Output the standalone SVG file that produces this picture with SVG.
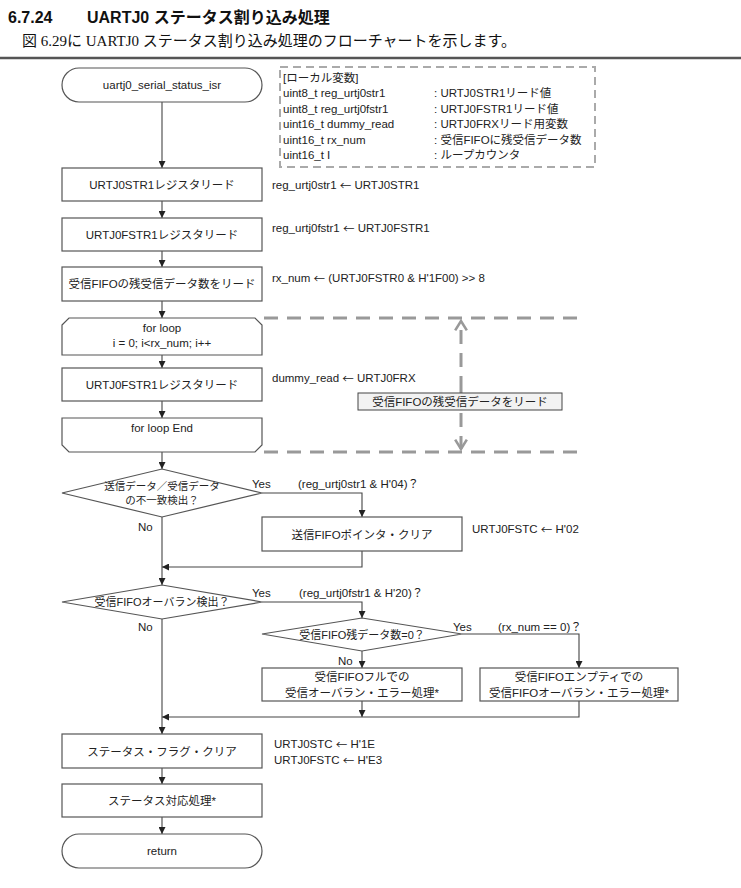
<svg xmlns="http://www.w3.org/2000/svg" width="741" height="888" viewBox="0 0 741 888">
<style>
text{font-family:"Liberation Sans","Noto Sans CJK JP",sans-serif;font-size:11.5px;fill:#222}
.c{text-anchor:middle;dominant-baseline:central}
.l{dominant-baseline:central}
.nt{font-size:11.5px}
.ar{font-family:"Noto Sans CJK JP",sans-serif}
.node{fill:#fff;stroke:#555;stroke-width:1.2}
.ln{fill:none;stroke:#444;stroke-width:1.1}
.dash{fill:none;stroke:#999;stroke-width:3;stroke-dasharray:14 9}
.vdash{fill:none;stroke:#aaa;stroke-width:2;stroke-dasharray:8 5}
</style>
<defs>
<marker id="ah" viewBox="0 0 8 8" refX="8" refY="4" markerWidth="7" markerHeight="7" markerUnits="userSpaceOnUse" orient="auto">
<path d="M0,0 L8,4 L0,8 z" fill="#222"/>
</marker>
<marker id="oh" viewBox="0 0 12 12" refX="10" refY="6" markerWidth="14" markerHeight="14" markerUnits="userSpaceOnUse" orient="auto">
<path d="M2,1 L10,6 L2,11" fill="none" stroke="#999" stroke-width="2.2"/>
</marker>
</defs>
<rect width="741" height="888" fill="#fff"/>
<g id="header">
<text x="8" y="23" style="font-size:16px;font-weight:bold;fill:#111">6.7.24</text>
<text x="87" y="23" style="font-size:16px;font-weight:bold;fill:#111">UARTJ0 ステータス割り込み処理</text>
<text x="22" y="46" style="font-family:'Liberation Serif','Noto Sans CJK JP',serif;font-size:15px;fill:#111">図 6.29に UARTJ0 ステータス割り込み処理のフローチャートを示します。</text>
<line x1="0" y1="58" x2="741" y2="58" stroke="#555" stroke-width="2.5"/>
</g>
<g id="connectors">
<line class="ln" x1="162" y1="102" x2="162" y2="168" marker-end="url(#ah)"/>
<line class="ln" x1="162" y1="201" x2="162" y2="218" marker-end="url(#ah)"/>
<line class="ln" x1="162" y1="251" x2="162" y2="267" marker-end="url(#ah)"/>
<line class="ln" x1="162" y1="301" x2="162" y2="318" marker-end="url(#ah)"/>
<line class="ln" x1="162" y1="355" x2="162" y2="368" marker-end="url(#ah)"/>
<line class="ln" x1="162" y1="401" x2="162" y2="418" marker-end="url(#ah)"/>
<line class="ln" x1="162" y1="452" x2="162" y2="469" marker-end="url(#ah)"/>
<polyline class="ln" points="262,493 362,493 362,517" marker-end="url(#ah)"/>
<polyline class="ln" points="362,551 362,567 162,567" marker-end="url(#ah)"/>
<line class="ln" x1="162" y1="517" x2="162" y2="585" marker-end="url(#ah)"/>
<polyline class="ln" points="262,602 362,602 362,618" marker-end="url(#ah)"/>
<line class="ln" x1="362" y1="651" x2="362" y2="668" marker-end="url(#ah)"/>
<polyline class="ln" points="462,634 579,634 579,668" marker-end="url(#ah)"/>
<line class="ln" x1="362" y1="701" x2="362" y2="717" marker-end="url(#ah)"/>
<polyline class="ln" points="579,701 579,717 162,717" marker-end="url(#ah)"/>
<line class="ln" x1="162" y1="619" x2="162" y2="734" marker-end="url(#ah)"/>
<line class="ln" x1="162" y1="768" x2="162" y2="784" marker-end="url(#ah)"/>
<line class="ln" x1="162" y1="817" x2="162" y2="834" marker-end="url(#ah)"/>
<text x="252" y="484" class="l">Yes</text>
<text x="298" y="484" class="l">(reg_urtj0str1 &amp; H'04)？</text>
<text x="138" y="527" class="l">No</text>
<text x="252" y="593" class="l">Yes</text>
<text x="299" y="593" class="l">(reg_urtj0fstr1 &amp; H'20)？</text>
<text x="138" y="627" class="l">No</text>
<text x="453" y="627" class="l">Yes</text>
<text x="498" y="627" class="l">(rx_num == 0)？</text>
<text x="338" y="661" class="l">No</text>
</g>
<g id="loop-range">
<line class="dash" x1="264" y1="318" x2="578" y2="318"/>
<line class="dash" x1="264" y1="452" x2="578" y2="452"/>
<line class="dash" x1="461" y1="390" x2="461" y2="321" marker-end="url(#oh)"/>
<line class="dash" x1="461" y1="390" x2="461" y2="449" marker-end="url(#oh)"/>
<rect x="358" y="393" width="204" height="17" fill="#f2f2f2" stroke="#444" stroke-width="1"/>
<text x="460" y="401.5" class="c">受信FIFOの残受信データをリード</text>
</g>
<g id="locals">
<rect x="280" y="67" width="315" height="100" class="vdash"/>
<text x="283" y="78" class="l">[ローカル変数]</text>
<text x="283" y="93" class="l">uint8_t reg_urtj0str1</text>
<text x="283" y="108.5" class="l">uint8_t reg_urtj0fstr1</text>
<text x="283" y="124" class="l">uint16_t dummy_read</text>
<text x="283" y="139.5" class="l">uint16_t rx_num</text>
<text x="283" y="155" class="l">uint16_t I</text>
<text x="434" y="93" class="l">: URTJ0STR1リード値</text>
<text x="434" y="108.5" class="l">: URTJ0FSTR1リード値</text>
<text x="434" y="124" class="l">: URTJ0FRXリード用変数</text>
<text x="434" y="139.5" class="l">: 受信FIFOに残受信データ数</text>
<text x="434" y="155" class="l">: ループカウンタ</text>
</g>
<g id="start">
<rect x="62" y="68" width="200" height="34" rx="17" class="node"/>
<text x="162" y="85" class="c nt">uartj0_serial_status_isr</text>
</g>
<g id="read-str1">
<rect x="62" y="168" width="200" height="33" class="node"/>
<text x="162" y="184.5" class="c nt">URTJ0STR1レジスタリード</text>
<text x="272" y="185" class="l">reg_urtj0str1 <tspan class="ar">←</tspan> URTJ0STR1</text>
</g>
<g id="read-fstr1">
<rect x="62" y="218" width="200" height="33" class="node"/>
<text x="162" y="234.5" class="c nt">URTJ0FSTR1レジスタリード</text>
<text x="272" y="228" class="l">reg_urtj0fstr1 <tspan class="ar">←</tspan> URTJ0FSTR1</text>
</g>
<g id="read-rxnum">
<rect x="62" y="267" width="200" height="34" class="node"/>
<text x="162" y="284" class="c nt">受信FIFOの残受信データ数をリード</text>
<text x="272" y="278" class="l">rx_num <tspan class="ar">←</tspan> (URTJ0FSTR0 &amp; H'1F00) &gt;&gt; 8</text>
</g>
<g id="loop-start">
<path d="M62,325 L69,318 L255,318 L262,325 L262,355 L62,355 Z" class="node"/>
<text x="162" y="328" class="c nt">for loop</text>
<text x="162" y="343" class="c nt">i = 0; i&lt;rx_num; i++</text>
</g>
<g id="dummy-read">
<rect x="62" y="368" width="200" height="33" class="node"/>
<text x="162" y="384.5" class="c nt">URTJ0FSTR1レジスタリード</text>
<text x="272" y="378" class="l">dummy_read <tspan class="ar">←</tspan> URTJ0FRX</text>
</g>
<g id="loop-end">
<path d="M62,418 L262,418 L262,445 L255,452 L69,452 L62,445 Z" class="node"/>
<text x="162" y="428" class="c nt">for loop End</text>
</g>
<g id="dec-mismatch">
<polygon points="62,493 162,469 262,493 162,517" class="node"/>
<text x="162" y="486" class="c" style="font-size:10.5px">送信データ／受信データ</text>
<text x="162" y="500" class="c" style="font-size:10.5px">の不一致検出？</text>
</g>
<g id="tx-fifo-clear">
<rect x="262" y="517" width="200" height="34" class="node"/>
<text x="362" y="534.5" class="c nt">送信FIFOポインタ・クリア</text>
<text x="472" y="529" class="l">URTJ0FSTC <tspan class="ar">←</tspan> H'02</text>
</g>
<g id="dec-overrun">
<polygon points="62,602 162,585 262,602 162,619" class="node"/>
<text x="162" y="602" class="c" style="font-size:11px">受信FIFOオーバラン検出？</text>
</g>
<g id="dec-rxnum">
<polygon points="262,634 362,618 462,634 362,651" class="node"/>
<text x="362" y="634.5" class="c" style="font-size:11px">受信FIFO残データ数=0？</text>
</g>
<g id="full-err">
<rect x="262" y="668" width="200" height="33" class="node"/>
<text x="362" y="677" class="c">受信FIFOフルでの</text>
<text x="362" y="692.5" class="c">受信オーバラン・エラー処理*</text>
</g>
<g id="empty-err">
<rect x="480" y="668" width="198" height="33" class="node"/>
<text x="579" y="677" class="c">受信FIFOエンプティでの</text>
<text x="579" y="692.5" class="c">受信FIFOオーバラン・エラー処理*</text>
</g>
<g id="flag-clear">
<rect x="62" y="734" width="200" height="34" class="node"/>
<text x="162" y="751.5" class="c nt">ステータス・フラグ・クリア</text>
<text x="274" y="744" class="l">URTJ0STC <tspan class="ar">←</tspan> H'1E</text>
<text x="274" y="760" class="l">URTJ0FSTC <tspan class="ar">←</tspan> H'E3</text>
</g>
<g id="status-proc">
<rect x="62" y="784" width="200" height="33" class="node"/>
<text x="162" y="800.5" class="c nt">ステータス対応処理*</text>
</g>
<g id="return">
<rect x="62" y="834" width="200" height="34" rx="17" class="node"/>
<text x="162" y="851" class="c nt">return</text>
</g>
</svg>
